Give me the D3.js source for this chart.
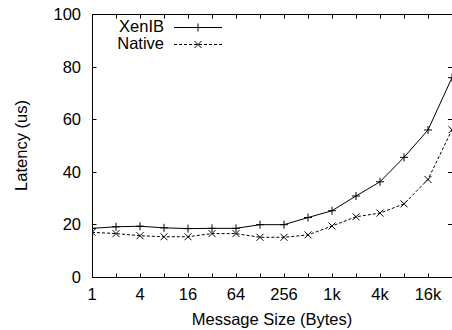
<!DOCTYPE html>
<html>
<head>
<meta charset="utf-8">
<script src="https://cdn.jsdelivr.net/npm/d3@7/dist/d3.min.js"></script>
<style>
  html, body { margin: 0; padding: 0; background: #fff; }
  svg { display: block; }
  text { font-family: "Liberation Sans", Arial, Helvetica, sans-serif; font-size: 16.5px; fill: #000; }
</style>
</head>
<body>
<svg id="chart" width="452" height="330"></svg>
<script>
// ---- data ----
const sizes = [1, 2, 4, 8, 16, 32, 64, 128, 256, 512, 1024, 2048, 4096, 8192, 16384, 32768];
const xenib = [18.5, 19.1, 19.3, 18.7, 18.4, 18.5, 18.5, 19.9, 19.9, 22.6, 25.2, 30.8, 36.2, 45.5, 55.9, 75.8];
const native = [17.0, 16.5, 15.7, 15.3, 15.3, 16.5, 16.5, 15.1, 15.1, 16.0, 19.4, 22.9, 24.3, 27.8, 37.1, 56.0];
const xTickValues = [1, 4, 16, 64, 256, 1024, 4096, 16384];
const xTickLabels = ["1", "4", "16", "64", "256", "1k", "4k", "16k"];
const yTickValues = [0, 20, 40, 60, 80, 100];
const seriesNames = ["XenIB", "Native"];

// ---- layout ----
const svg = d3.select("#chart");
const L = 92, R = 452, T = 14, B = 277;
const x = d3.scaleLog().base(2).domain([1, 32768]).range([L, R]);
const y = d3.scaleLinear().domain([0, 100]).range([B, T]);
const tick = 4;

const g = svg.append("g");

// frame
g.append("rect").attr("x", L + 0.5).attr("y", T + 0.5)
  .attr("width", R - L).attr("height", B - T)
  .attr("fill", "none").attr("stroke", "#000").attr("stroke-width", 1);

// x ticks (every power of 2), inward on bottom and top
sizes.forEach(s => {
  const px = Math.round(x(s)) + 0.5;
  g.append("line").attr("x1", px).attr("x2", px).attr("y1", B + 0.5).attr("y2", B + 0.5 - tick).attr("stroke", "#000");
  g.append("line").attr("x1", px).attr("x2", px).attr("y1", T + 0.5).attr("y2", T + 0.5 + tick).attr("stroke", "#000");
});
xTickValues.forEach((v, i) => {
  g.append("text").attr("x", x(v)).attr("y", 300).attr("text-anchor", "middle").text(xTickLabels[i]);
});

// y ticks
yTickValues.forEach(v => {
  const py = Math.round(y(v)) + 0.5;
  g.append("line").attr("x1", L + 0.5).attr("x2", L + 0.5 + tick).attr("y1", py).attr("y2", py).attr("stroke", "#000");
  g.append("line").attr("x1", R - tick).attr("x2", R).attr("y1", py).attr("y2", py).attr("stroke", "#000");
  g.append("text").attr("x", 81).attr("y", y(v) + 6).attr("text-anchor", "end").text(v);
});

// axis titles
g.append("text").attr("x", (L + R) / 2 + 0).attr("y", 325).attr("text-anchor", "middle").text("Message Size (Bytes)");
g.append("text").attr("transform", `translate(27,${(T + B) / 2}) rotate(-90)`).attr("text-anchor", "middle").text("Latency (us)");

// markers
function plus(sel, cx, cy, r) {
  sel.append("path").attr("d", `M${cx - r},${cy}H${cx + r}M${cx},${cy - r}V${cy + r}`).attr("stroke", "#000").attr("stroke-width", 1).attr("fill", "none");
}
function cross(sel, cx, cy, r) {
  sel.append("path").attr("d", `M${cx - r},${cy - r}L${cx + r},${cy + r}M${cx - r},${cy + r}L${cx + r},${cy - r}`).attr("stroke", "#000").attr("stroke-width", 1).attr("fill", "none");
}

const line = d3.line().x(d => x(d[0])).y(d => y(d[1]));
const clip = svg.append("clipPath").attr("id", "c").append("rect").attr("x", L).attr("y", T).attr("width", R - L + 4).attr("height", B - T);
const plot = svg.append("g").attr("clip-path", "url(#c)");

const xd = sizes.map((s, i) => [s, xenib[i]]);
const nd = sizes.map((s, i) => [s, native[i]]);

plot.append("path").attr("d", line(xd)).attr("fill", "none").attr("stroke", "#000").attr("stroke-width", 1);
plot.append("path").attr("d", line(nd)).attr("fill", "none").attr("stroke", "#000").attr("stroke-width", 1).attr("stroke-dasharray", "3,2");

xd.forEach(d => plus(plot, x(d[0]), y(d[1]), 4));
nd.forEach(d => cross(plot, x(d[0]), y(d[1]), 3.5));

// legend
const lg = svg.append("g");
lg.append("text").attr("x", 164).attr("y", 31.5).attr("text-anchor", "end").text(seriesNames[0]);
lg.append("text").attr("x", 164).attr("y", 48.5).attr("text-anchor", "end").text(seriesNames[1]);
lg.append("line").attr("x1", 174).attr("x2", 222).attr("y1", 27.5).attr("y2", 27.5).attr("stroke", "#000");
plus(lg, 198, 27.5, 4);
lg.append("line").attr("x1", 174).attr("x2", 222).attr("y1", 44.5).attr("y2", 44.5).attr("stroke", "#000").attr("stroke-dasharray", "3,2");
cross(lg, 198, 44.5, 3.5);
</script>
</body>
</html>
